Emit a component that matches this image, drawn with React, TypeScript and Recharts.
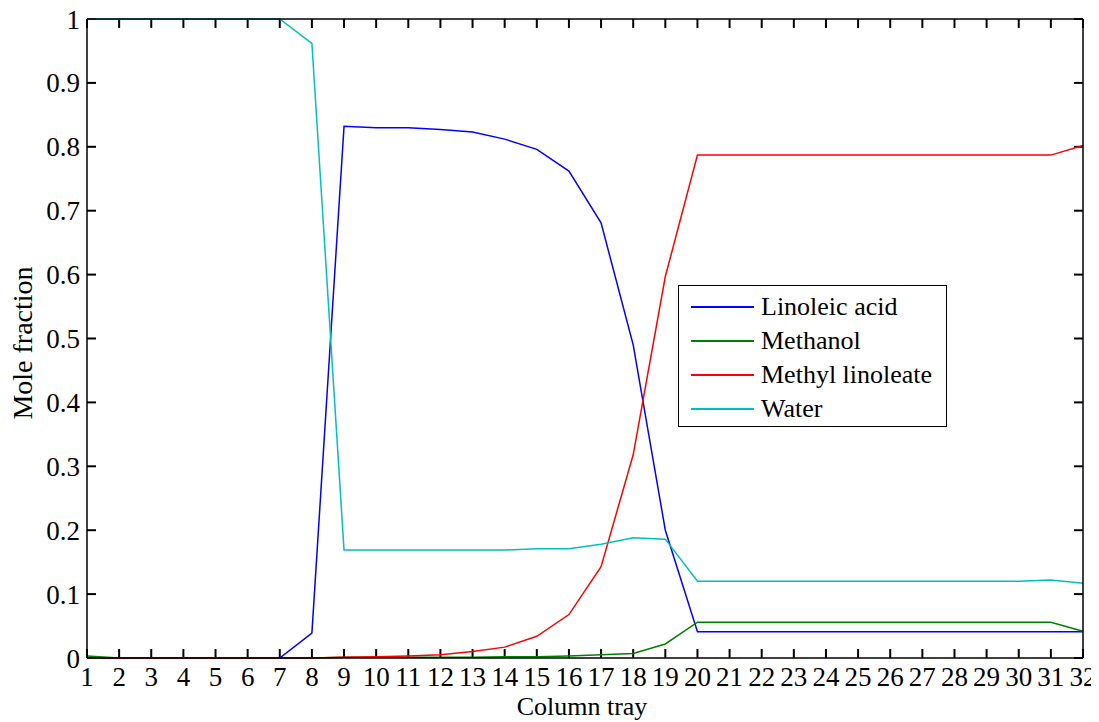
import React from 'react';
import { LineChart, Line, XAxis, YAxis, Legend, Label, ReferenceLine } from 'recharts';

const trays = [1, 2, 3, 4, 5, 6, 7, 8, 9, 10, 11, 12, 13, 14, 15, 16, 17, 18, 19, 20, 21, 22, 23, 24, 25, 26, 27, 28, 29, 30, 31, 32];

const linoleicAcid = [0, 0, 0, 0, 0, 0, 0, 0.039, 0.832, 0.830, 0.830, 0.827, 0.823, 0.812, 0.796, 0.762, 0.681, 0.49, 0.20, 0.041,
  0.041, 0.041, 0.041, 0.041, 0.041, 0.041, 0.041, 0.041, 0.041, 0.041, 0.041, 0.041];

const methanol = [0.003, 0, 0, 0, 0, 0, 0, 0, 0.001, 0.001, 0.001, 0.001, 0.001, 0.002, 0.002, 0.003, 0.005, 0.007, 0.022, 0.056,
  0.056, 0.056, 0.056, 0.056, 0.056, 0.056, 0.056, 0.056, 0.056, 0.056, 0.056, 0.042];

const methylLinoleate = [0, 0, 0, 0, 0, 0, 0, 0, 0.001, 0.002, 0.003, 0.005, 0.010, 0.017, 0.034, 0.068, 0.143, 0.318, 0.597, 0.787,
  0.787, 0.787, 0.787, 0.787, 0.787, 0.787, 0.787, 0.787, 0.787, 0.787, 0.787, 0.802];

const water = [1, 1, 1, 1, 1, 1, 1, 0.962, 0.169, 0.169, 0.169, 0.169, 0.169, 0.169, 0.171, 0.171, 0.178, 0.188, 0.186, 0.12,
  0.12, 0.12, 0.12, 0.12, 0.12, 0.12, 0.12, 0.12, 0.12, 0.12, 0.122, 0.117];

const yTicks = [0, 0.1, 0.2, 0.3, 0.4, 0.5, 0.6, 0.7, 0.8, 0.9, 1];

const seriesKeys = ['linoleic', 'methanol', 'methyl', 'water'];
const seriesNames = ['Linoleic acid', 'Methanol', 'Methyl linoleate', 'Water'];
const seriesColors = ['#0000FF', '#008000', '#FF0000', '#00BFBF'];

const data = trays.map((t, i) => ({
  tray: t,
  linoleic: linoleicAcid[i],
  methanol: methanol[i],
  methyl: methylLinoleate[i],
  water: water[i],
}));

const FONT = "'Liberation Serif', 'Times New Roman', Times, serif";
// inward tick-mark length expressed in axis units (about 9 px)
const TICK_Y = 0.014;
const TICK_X = 0.28;
const X_MIN = trays[0];
const X_MAX = trays[trays.length - 1];
const Y_MIN = yTicks[0];
const Y_MAX = yTicks[yTicks.length - 1];

const BottomTick = (p: any) => (
  <text x={p.x} y={p.y + 28} textAnchor="middle" fontFamily={FONT} fontSize={27} fill="#000">
    {p.payload.value}
  </text>
);

const LeftTick = (p: any) => (
  <text x={p.x - 7} y={p.y + 9.5} textAnchor="end" fontFamily={FONT} fontSize={27} fill="#000">
    {String(Math.round(p.payload.value * 10) / 10)}
  </text>
);

const renderLegend = () => (
  <div
    style={{
      border: '1.5px solid #000',
      background: '#fff',
      boxSizing: 'border-box',
      width: 269,
      height: 142,
      padding: '4px 0 0 12px',
      fontFamily: FONT,
      fontSize: 26,
      lineHeight: '34px',
      color: '#000',
    }}
  >
    {seriesNames.map((name, i) => (
      <div key={name} style={{ display: 'flex', alignItems: 'center', height: 34 }}>
        <div style={{ width: 63, height: 1.5, background: seriesColors[i], marginRight: 7, flex: 'none' }} />
        <span style={{ whiteSpace: 'nowrap' }}>{name}</span>
      </div>
    ))}
  </div>
);

const XLabel = () => (
  <text x={582} y={715} textAnchor="middle" fontFamily={FONT} fontSize={26} fill="#000">
    Column tray
  </text>
);

const YLabel = () => (
  <text x={32} y={343} textAnchor="middle" fontFamily={FONT} fontSize={28} fill="#000" transform="rotate(-90 32 343)">
    Mole fraction
  </text>
);

const tickMark = { stroke: '#000', strokeWidth: 2, ifOverflow: 'visible' as const };

export default function App() {
  return (
    <div style={{ width: 1099, height: 722, margin: '-8px 0 0 -8px', background: '#fff' }}>
      <LineChart width={1099} height={722} data={data} margin={{ top: 18, right: 15, bottom: 0, left: 0 }}>
        <XAxis
          xAxisId="bottom"
          dataKey="tray"
          type="number"
          domain={[X_MIN, X_MAX]}
          ticks={trays}
          interval={0}
          height={64}
          tickSize={0}
          tickMargin={0}
          tickLine={false}
          axisLine={{ stroke: '#000', strokeWidth: 1.5 }}
          tick={BottomTick}
        >
          <Label content={<XLabel />} />
        </XAxis>
        <XAxis
          xAxisId="top"
          orientation="top"
          dataKey="tray"
          type="number"
          domain={[X_MIN, X_MAX]}
          ticks={trays}
          interval={0}
          height={1}
          tickSize={0}
          tickLine={false}
          tick={false}
          axisLine={{ stroke: '#000', strokeWidth: 1.5 }}
        />
        <YAxis
          yAxisId="left"
          type="number"
          domain={[Y_MIN, Y_MAX]}
          ticks={yTicks}
          interval={0}
          width={87}
          tickSize={0}
          tickMargin={0}
          tickLine={false}
          axisLine={{ stroke: '#000', strokeWidth: 1.5 }}
          tick={LeftTick}
        >
          <Label content={<YLabel />} />
        </YAxis>
        <YAxis
          yAxisId="right"
          orientation="right"
          type="number"
          domain={[Y_MIN, Y_MAX]}
          ticks={yTicks}
          interval={0}
          width={1}
          tickSize={0}
          tickLine={false}
          tick={false}
          axisLine={{ stroke: '#000', strokeWidth: 1.5 }}
        />
        {trays.map((t) => (
          <ReferenceLine
            key={`xb${t}`}
            xAxisId="bottom"
            yAxisId="left"
            segment={[{ x: t, y: Y_MIN }, { x: t, y: Y_MIN + TICK_Y }]}
            {...tickMark}
          />
        ))}
        {trays.map((t) => (
          <ReferenceLine
            key={`xt${t}`}
            xAxisId="bottom"
            yAxisId="left"
            segment={[{ x: t, y: Y_MAX }, { x: t, y: Y_MAX - TICK_Y }]}
            {...tickMark}
          />
        ))}
        {yTicks.map((v) => (
          <ReferenceLine
            key={`yl${v}`}
            xAxisId="bottom"
            yAxisId="left"
            segment={[{ x: X_MIN, y: v }, { x: X_MIN + TICK_X, y: v }]}
            {...tickMark}
          />
        ))}
        {yTicks.map((v) => (
          <ReferenceLine
            key={`yr${v}`}
            xAxisId="bottom"
            yAxisId="left"
            segment={[{ x: X_MAX, y: v }, { x: X_MAX - TICK_X, y: v }]}
            {...tickMark}
          />
        ))}
        <Legend
          layout="vertical"
          align="center"
          verticalAlign="middle"
          content={renderLegend}
          wrapperStyle={{ left: 678, top: 285, width: 269, height: 142 }}
        />
        {seriesKeys.map((k, i) => (
          <Line
            key={k}
            xAxisId="bottom"
            yAxisId="left"
            type="linear"
            dataKey={k}
            name={seriesNames[i]}
            stroke={seriesColors[i]}
            strokeWidth={1.5}
            dot={false}
            activeDot={false}
            isAnimationActive={false}
          />
        ))}
      </LineChart>
    </div>
  );
}
